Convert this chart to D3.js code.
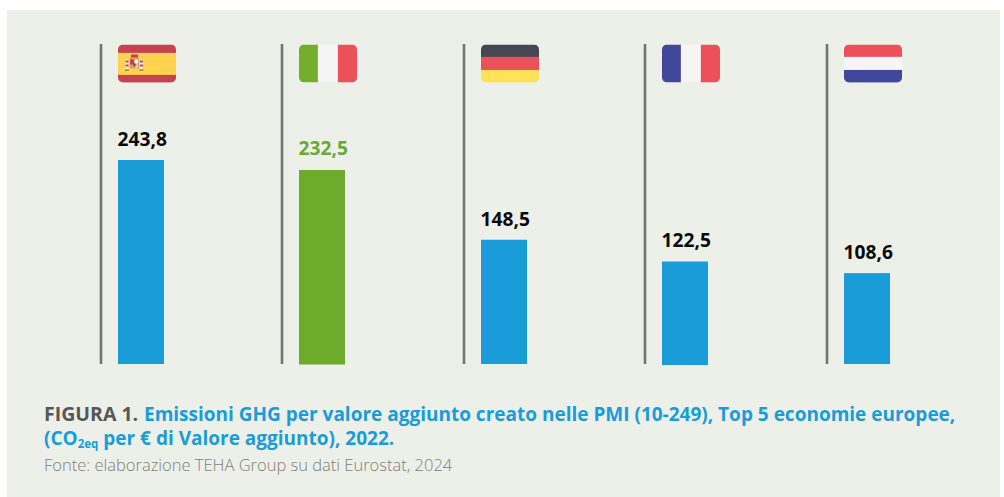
<!DOCTYPE html>
<html><head><meta charset="utf-8">
<script src="https://cdn.jsdelivr.net/npm/d3@7/dist/d3.min.js"></script>
<style>html,body{margin:0;padding:0;background:#fff}svg{display:block}</style>
</head><body><svg id="c" width="1004" height="497"></svg>
<script>
const countries=["Spagna","Italia","Germania","Francia","Paesi Bassi"];
const values=[243.8,232.5,148.5,122.5,108.6];
const labels=["243,8","232,5","148,5","122,5","108,6"];
const flagStripes=[
 {dir:"h",colors:["#c8414f","#ffd250","#c8414f"],w:[.22,.58,.2]},
 {dir:"v",colors:["#73af2c","#f5f5f5","#ee505a"],w:[.325,.345,.33]},
 {dir:"h",colors:["#464655","#ee505a","#ffe15a"],w:[.325,.345,.33]},
 {dir:"v",colors:["#41479b","#f5f5f5","#ee505a"],w:[.325,.345,.33]},
 {dir:"h",colors:["#ee505a","#f5f5f5","#41479b"],w:[.325,.345,.33]}
];
const blue="#1a9cd9",green="#6cab2c";
const svg=d3.select("#c");
const font="'Open Sans','Noto Sans',sans-serif";
svg.append("rect").attr("x",7).attr("y",10).attr("width",993).attr("height",487).attr("fill","#edf0e9");
const x=d3.scalePoint().domain(countries).range([118,844]);
const y=d3.scaleLinear().domain([0,243.8]).range([364,160]);
const g=svg.append("g");
const defs=svg.append("defs");
countries.forEach((c,i)=>{
 const x0=Math.floor(x(c));
 g.append("line").attr("x1",x0-17).attr("x2",x0-17).attr("y1",44).attr("y2",364).attr("stroke","#737573").attr("stroke-width",2.6);
 const v=values[i];
 g.append("rect").attr("x",x0).attr("y",y(v)+(i==1?0.5:0)).attr("width",46).attr("height",364-y(v)+(i==3?1:0)).attr("fill",i==1?green:blue);
 g.append("text").attr("x",x0-0.5).attr("y",y(v)-14).attr("font-family",font).attr("font-weight",700).attr("font-size",19.2).attr("fill",i==1?"#69a935":"#0a0a0a").text(labels[i]);
 const fw=58,fh=38,fx=x0,fy=44.5;
 defs.append("clipPath").attr("id","f"+i).append("rect").attr("x",fx).attr("y",fy).attr("width",fw).attr("height",fh).attr("rx",5);
 const fl=g.append("g").attr("clip-path",`url(#f${i})`);
 const s=flagStripes[i];let o=0;
 s.colors.forEach((col,k)=>{
  if(s.dir=="h") fl.append("rect").attr("x",fx).attr("y",fy+o*fh).attr("width",fw).attr("height",s.w[k]*fh+.3).attr("fill",col);
  else fl.append("rect").attr("x",fx+o*fw).attr("y",fy).attr("width",s.w[k]*fw+.3).attr("height",fh).attr("fill",col);
  o+=s.w[k];
 });
 if(i==0){
  const e=g.append("g").attr("transform",`translate(${fx+7},${fy+10})`);
  [[0.5,5,3,10,"#f5f5f5"],[0.5,6,3,2,"#c8414f"],[0.5,10,3,2,"#c8414f"],[15,5,3,10,"#f5f5f5"],[15,6,3,2,"#c8414f"],[15,10,3,2,"#c8414f"],[5,3,9,11,"#e0a050"],[5,5,4.5,5,"#c8414f"],[9.5,5,3.5,4,"#f5f5f5"],[9.5,10,3.5,4,"#f5c0a0"],[6,0,7,3,"#c8414f"],[0,15,4,1,"#6b5a3a"],[14.5,15,4,1,"#6b5a3a"],[8.5,9,2,3,"#41479b"]].forEach(d=>{
   e.append("rect").attr("x",d[0]).attr("y",d[1]).attr("width",d[2]).attr("height",d[3]).attr("fill",d[4]);
  });
 }
});
const t=svg.append("g").attr("font-family",font).attr("font-weight",700).attr("font-size",19);
t.append("text").attr("x",44).attr("y",421).attr("font-size",19.5).attr("fill","#575756").text("FIGURA 1.");
t.append("text").attr("x",144).attr("y",421).attr("fill",blue).text("Emissioni GHG per valore aggiunto creato nelle PMI (10-249), Top 5 economie europee,");
const l2=t.append("text").attr("x",44).attr("y",445).attr("fill",blue);
l2.append("tspan").text("(CO");
l2.append("tspan").attr("font-size",11.5).attr("dy",3).text("2eq");
l2.append("tspan").attr("dy",-3).text(" per € di Valore aggiunto), 2022.");
svg.append("text").attr("x",44).attr("y",471).attr("font-family",font).attr("font-weight",300).attr("font-size",16.5).attr("fill","#7f7f7d").text("Fonte: elaborazione TEHA Group su dati Eurostat, 2024");
</script></body></html>
